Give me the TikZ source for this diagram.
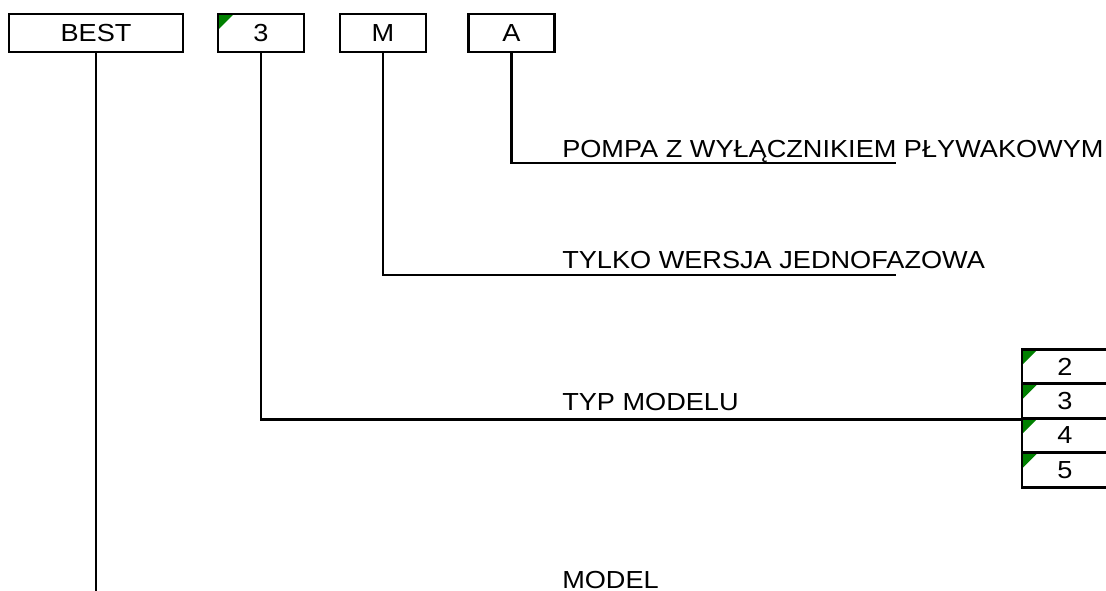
\documentclass[tikz,border=0pt]{standalone}
\usepackage{fontspec}
\setmainfont{Liberation Sans}[FakeStretch=1.1]
\usepackage{tikz}
\usetikzlibrary{positioning}
\definecolor{CodeGreen}{RGB}{0,128,0}

\begin{document}
\begin{tikzpicture}[
          x=0.75pt, y=-0.75pt,
          codebox/.style={rectangle, draw=black, line width=2.2pt, fill=white,
                          minimum height=28.5pt, inner sep=0pt,
                          font=\fontsize{18.5pt}{21pt}\selectfont},
          marked/.style={path picture={
                          \fill[CodeGreen] (path picture bounding box.north west)
                            -- ++(12pt,0) -- ++(-12pt,-12pt) -- cycle;}},
          optbox/.style={codebox, marked, minimum width=64.5pt,
                         minimum height=25.9pt},
          lbl/.style={anchor=base west, inner sep=0pt,
                      font=\fontsize{18.5pt}{21pt}\selectfont},
          lead/.style={line width=2.2pt}
        ]
        \useasboundingbox (0,0) rectangle (1106,591);

        % Code boxes
        \node[codebox, minimum width=130.5pt]       (best) at (96,33)    {BEST};
        \node[codebox, marked, minimum width=64.5pt] (typ) at (261,33)   {3};
        \node[codebox, minimum width=64.5pt]         (fazy) at (383,33)  {M};
        \node[codebox, minimum width=65pt]           (plyw) at (511.5,33) {A};

        % Model variants
        \foreach \n [count=\i] in {2,3,4,5}
          \node[optbox] (opt\n) at (1065,{366.5+34.5*(\i-1)}) {\n};

        % Descriptions
        \node[lbl] (pompa) at (562,158) {POMPA Z WYŁĄCZNIKIEM PŁYWAKOWYM};
        \node[lbl] (tylko) at (562,269) {TYLKO WERSJA JEDNOFAZOWA};
        \node[lbl] (typm)  at (562,411) {TYP MODELU};
        \node[lbl] (model) at (562,588) {MODEL};
        \coordinate (endA) at (896,163);
        \coordinate (endM) at (896,275);
        \coordinate (endB) at (96,591);

        % Leader lines
        \draw[lead] (plyw.south) |- (endA);
        \draw[lead] (fazy.south) |- (endM);
        \draw[lead] (typ.south) |- (opt3.south west);
        \draw[lead] (best.south) -- (endB);
      \end{tikzpicture}
\end{document}
